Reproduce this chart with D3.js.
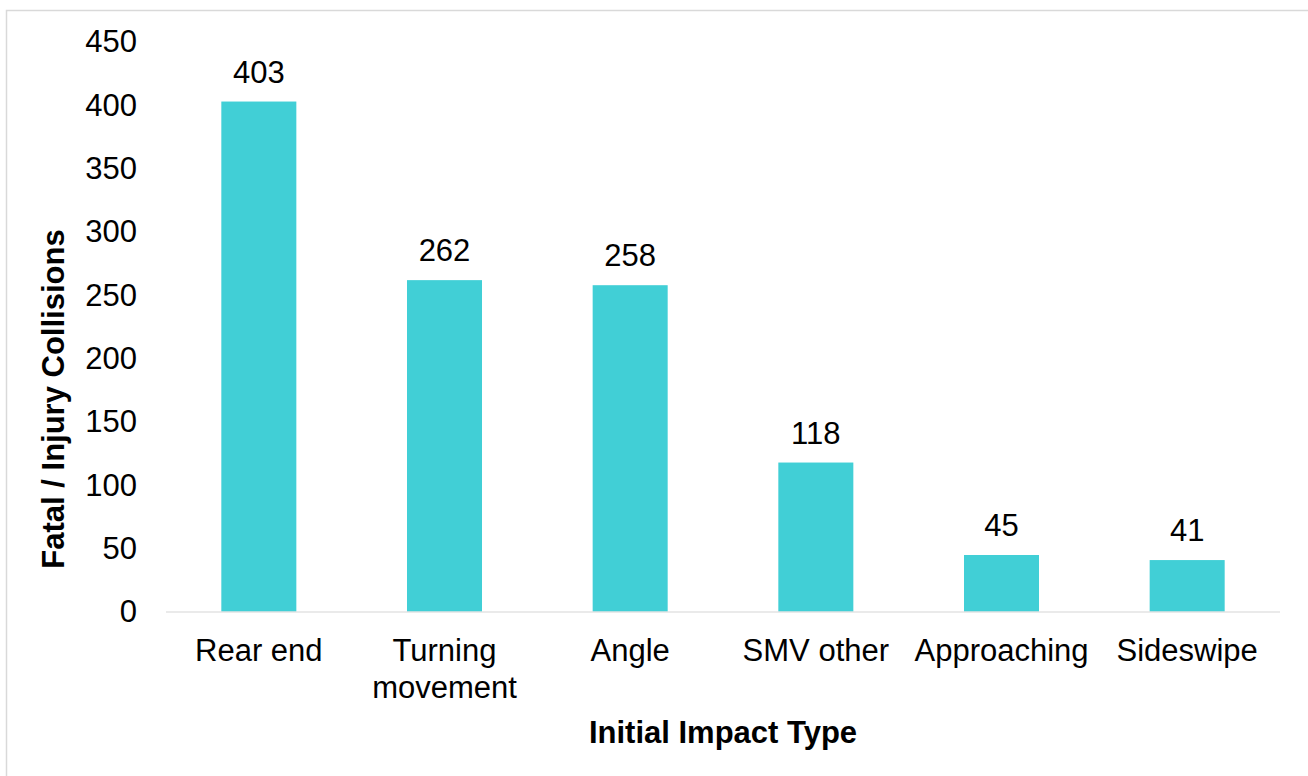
<!DOCTYPE html>
<html>
<head>
<meta charset="utf-8">
<script src="https://cdn.jsdelivr.net/npm/d3@7"></script>
<style>
  body { margin: 0; background: #fff; }
  svg { display: block; font-family: "Liberation Sans", Arial, sans-serif; }
</style>
</head>
<body>
<svg id="svg1" width="1308" height="776"></svg>
<script>
// data
var categories = ['Rear end', 'Turning movement', 'Angle', 'SMV other', 'Approaching', 'Sideswipe'];
var values = [403, 262, 258, 118, 45, 41];
var yTicks = [0, 50, 100, 150, 200, 250, 300, 350, 400, 450];

var width = document.getElementById('svg1').clientWidth;
var height = document.getElementById('svg1').clientHeight;

var plotLeft = 166, plotRight = 1280, plotTop = 42, plotBottom = 612;

var svg = d3.select('svg');

// outer chart border (only top and left show in the frame)
svg.append('rect')
    .attr('x', 6.5).attr('y', 10.5)
    .attr('width', width + 20).attr('height', height + 20)
    .attr('fill', 'none')
    .attr('stroke', '#d9d9d9')
    .attr('stroke-width', 1.5);

var x = d3.scaleBand()
    .domain(categories)
    .range([plotLeft, plotRight])
    .padding(0);

var y = d3.scaleLinear()
    .domain([0, 450])
    .range([plotBottom, plotTop]);

var barW = x.bandwidth() * 0.404;

var data = categories.map(function(c, i){ return {cat: c, val: values[i]}; });

// bars
svg.selectAll('rect.bar')
    .data(data)
    .enter()
    .append('rect')
    .attr('class', 'bar')
    .attr('x', function(d){ return x(d.cat) + x.bandwidth()/2 - barW/2; })
    .attr('y', function(d){ return y(d.val); })
    .attr('width', barW)
    .attr('height', function(d){ return y(0) - y(d.val); })
    .attr('fill', '#41cfd6');

// baseline
svg.append('line')
    .attr('x1', plotLeft).attr('x2', plotRight)
    .attr('y1', y(0)).attr('y2', y(0))
    .attr('stroke', '#e3e3e3')
    .attr('stroke-width', 1.5);

// y axis tick labels
var yAxis = d3.axisLeft(y).tickValues(yTicks).tickSize(0).tickPadding(0);
var gy = svg.append('g')
    .attr('transform', 'translate(137,0)')
    .call(yAxis);
gy.select('.domain').remove();
gy.selectAll('text')
    .attr('font-size', 31)
    .attr('font-family', '"Liberation Sans", Arial, sans-serif')
    .attr('fill', '#000');

// value labels
svg.selectAll('text.val')
    .data(data)
    .enter()
    .append('text')
    .attr('class', 'val')
    .attr('x', function(d){ return x(d.cat) + x.bandwidth()/2; })
    .attr('y', function(d){ return y(d.val) - 19; })
    .attr('text-anchor', 'middle')
    .attr('font-size', 31)
    .attr('fill', '#000')
    .text(function(d){ return d.val; });

// category labels (wrapped on spaces only for "Turning movement")
var catLabels = svg.selectAll('text.cat')
    .data(data)
    .enter()
    .append('text')
    .attr('class', 'cat')
    .attr('text-anchor', 'middle')
    .attr('font-size', 31)
    .attr('fill', '#000')
    .attr('transform', function(d){ return 'translate(' + (x(d.cat) + x.bandwidth()/2) + ',' + (plotBottom + 49) + ')'; });

catLabels.each(function(d){
    var lines = d.cat === 'Turning movement' ? ['Turning', 'movement'] : [d.cat];
    var t = d3.select(this);
    lines.forEach(function(l, i){
        t.append('tspan').attr('x', 0).attr('y', i * 37).text(l);
    });
});

// axis titles
svg.append('text')
    .attr('x', (plotLeft + plotRight) / 2)
    .attr('y', 743)
    .attr('text-anchor', 'middle')
    .attr('font-size', 31)
    .attr('font-weight', 'bold')
    .attr('fill', '#000')
    .text('Initial Impact Type');

svg.append('text')
    .attr('transform', 'translate(64,399) rotate(-90)')
    .attr('text-anchor', 'middle')
    .attr('font-size', 31)
    .attr('font-weight', 'bold')
    .attr('fill', '#000')
    .text('Fatal / Injury Collisions');
</script>
</body>
</html>
